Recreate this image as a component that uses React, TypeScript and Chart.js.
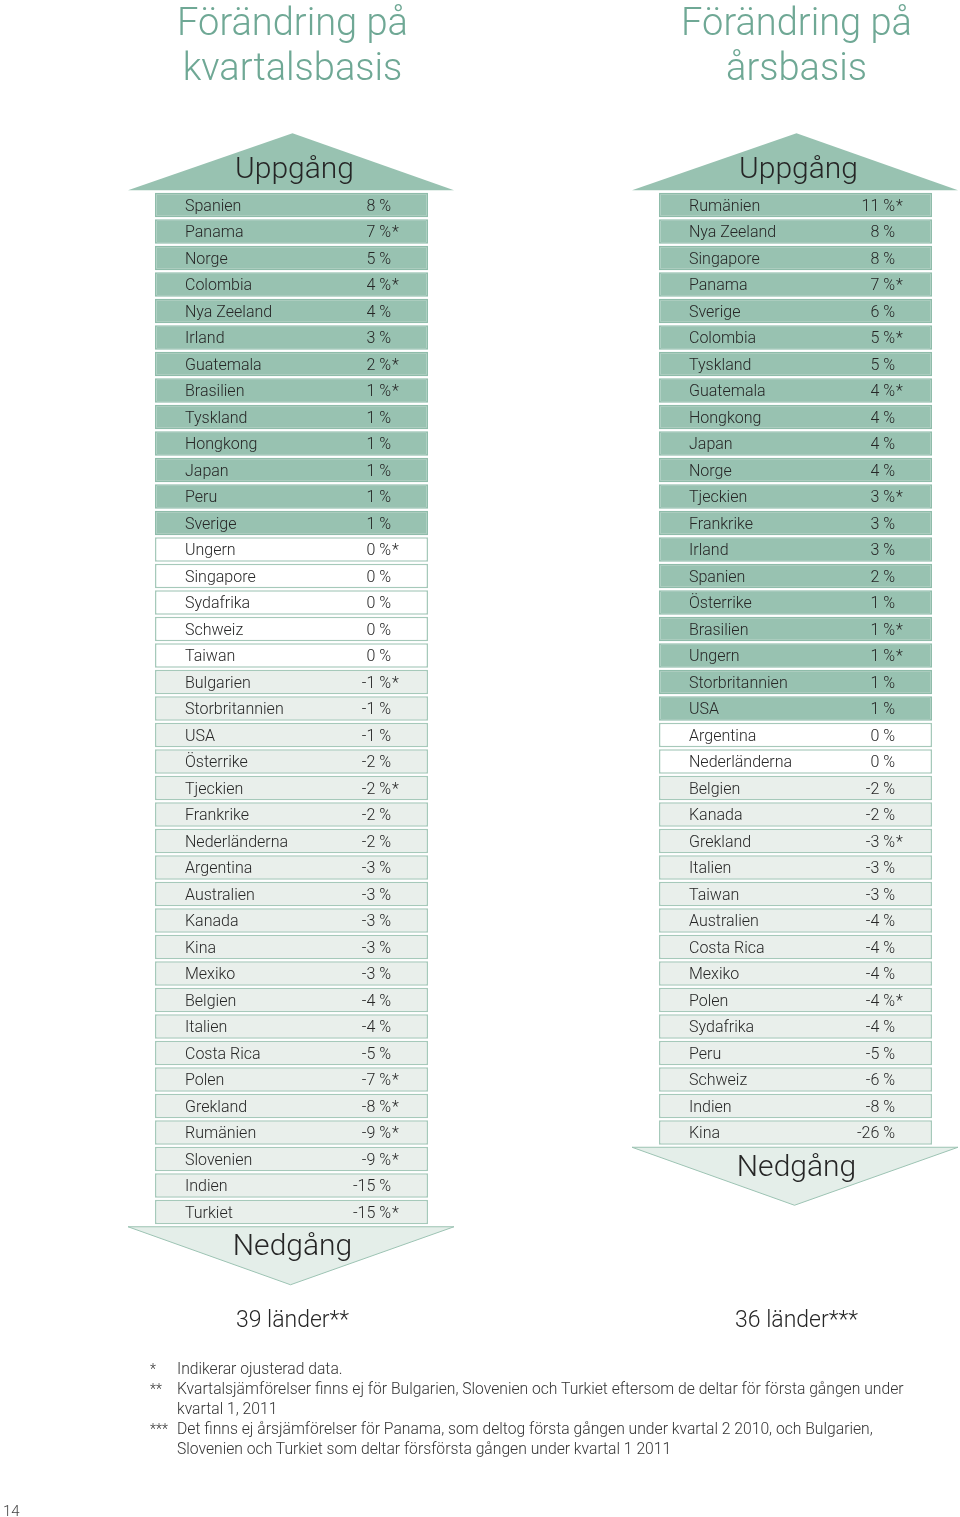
import React, { useEffect, useRef } from "react";
import { Chart, registerables } from "chart.js";
Chart.register(...registerables);

const quarterCountries = ["Spanien","Panama","Norge","Colombia","Nya Zeeland","Irland","Guatemala","Brasilien","Tyskland","Hongkong","Japan","Peru","Sverige","Ungern","Singapore","Sydafrika","Schweiz","Taiwan","Bulgarien","Storbritannien","USA","Österrike","Tjeckien","Frankrike","Nederländerna","Argentina","Australien","Kanada","Kina","Mexiko","Belgien","Italien","Costa Rica","Polen","Grekland","Rumänien","Slovenien","Indien","Turkiet"];
const quarterValues = [8,7,5,4,4,3,2,1,1,1,1,1,1,0,0,0,0,0,-1,-1,-1,-2,-2,-2,-2,-3,-3,-3,-3,-3,-4,-4,-5,-7,-8,-9,-9,-15,-15];
const quarterUnadjusted = ["Panama","Colombia","Guatemala","Brasilien","Ungern","Bulgarien","Tjeckien","Polen","Grekland","Rumänien","Slovenien","Turkiet"];

const annualCountries = ["Rumänien","Nya Zeeland","Singapore","Panama","Sverige","Colombia","Tyskland","Guatemala","Hongkong","Japan","Norge","Tjeckien","Frankrike","Irland","Spanien","Österrike","Brasilien","Ungern","Storbritannien","USA","Argentina","Nederländerna","Belgien","Kanada","Grekland","Italien","Taiwan","Australien","Costa Rica","Mexiko","Polen","Sydafrika","Peru","Schweiz","Indien","Kina"];
const annualValues = [11,8,8,7,6,5,5,4,4,4,4,3,3,3,2,1,1,1,1,1,0,0,-2,-2,-3,-3,-3,-4,-4,-4,-4,-4,-5,-6,-8,-26];
const annualUnadjusted = ["Rumänien","Panama","Colombia","Guatemala","Tjeckien","Brasilien","Ungern","Grekland","Polen"];

const titles = [["Förändring på", "kvartalsbasis"], ["Förändring på", "årsbasis"]];
const countTexts = ["39 länder**", "36 länder***"];
const upLabel = "Uppgång";
const downLabel = "Nedgång";

const footnotes = [
  ["*", ["Indikerar ojusterad data."]],
  ["**", ["Kvartalsjämförelser finns ej för Bulgarien, Slovenien och Turkiet eftersom de deltar för första gången under", "kvartal 1, 2011"]],
  ["***", ["Det finns ej årsjämförelser för Panama, som deltog första gången under kvartal 2 2010, och Bulgarien,", "Slovenien och Turkiet som deltar försförsta gången under kvartal 1 2011"]],
] as [string, string[]][];

const FONT = "Roboto, 'Liberation Sans', sans-serif";
const POS_FILL = "#98c2b1";
const POS_BORDER = "#8fbcaa";
const NEG_FILL = "#e9efeb";
const ZERO_FILL = "#ffffff";
const CELL_BORDER = "#a6c9ba";
const TITLE_COLOR = "#6fa895";
const TEXT_COLOR = "#262626";

function makeChart(canvas: HTMLCanvasElement, countries: string[], values: number[], unadjusted: string[], title: string[], countText: string, pad: { left: number; right: number; top: number; bottom: number }) {
  const decorPlugin = {
    id: "decor",
    beforeDatasetsDraw(chart: any) {
      const ctx = chart.ctx as CanvasRenderingContext2D;
      const a = chart.chartArea;
      const cx = (a.left + a.right) / 2;
      ctx.save();
      ctx.fillStyle = TITLE_COLOR;
      ctx.font = `300 38px ${FONT}`;
      ctx.textAlign = "center";
      ctx.textBaseline = "middle";
      ctx.fillText(title[0], cx + 1, 25);
      ctx.fillText(title[1], cx + 1, 70);
      const baseTop = a.top - 1.5;
      ctx.beginPath();
      ctx.moveTo(a.left - 27, baseTop);
      ctx.lineTo(cx + 1, baseTop - 57);
      ctx.lineTo(a.right + 26, baseTop);
      ctx.closePath();
      ctx.fillStyle = POS_FILL;
      ctx.fill();
      ctx.fillStyle = TEXT_COLOR;
      ctx.font = `300 30px ${FONT}`;
      ctx.fillText(upLabel, cx + 3, baseTop - 20);
      const baseBot = a.bottom + 1.5;
      ctx.beginPath();
      ctx.moveTo(a.left - 27, baseBot);
      ctx.lineTo(cx - 1, baseBot + 58);
      ctx.lineTo(a.right + 26, baseBot);
      ctx.closePath();
      ctx.fillStyle = "#e4eee9";
      ctx.fill();
      ctx.strokeStyle = "#9cc3b3";
      ctx.lineWidth = 1;
      ctx.stroke();
      ctx.fillStyle = TEXT_COLOR;
      ctx.font = `300 30px ${FONT}`;
      ctx.fillText(downLabel, cx + 1, baseBot + 21);
      ctx.font = `300 23px ${FONT}`;
      ctx.fillText(countText, cx + 1, 1321);
      ctx.restore();
    },
    afterDatasetsDraw(chart: any) {
      const ctx = chart.ctx as CanvasRenderingContext2D;
      const a = chart.chartArea;
      const meta = chart.getDatasetMeta(0);
      ctx.save();
      ctx.fillStyle = TEXT_COLOR;
      ctx.font = `300 16px ${FONT}`;
      ctx.textBaseline = "middle";
      countries.forEach((name, i) => {
        const y = meta.data[i].y + 1.5;
        ctx.textAlign = "left";
        ctx.fillText(name, a.left + 30, y);
        ctx.textAlign = "right";
        ctx.fillText(`${values[i]} %`, a.left + 236, y);
        if (unadjusted.includes(name)) {
          ctx.textAlign = "left";
          ctx.fillText("*", a.left + 237, y);
        }
      });
      ctx.restore();
    },
  };

  return new Chart(canvas, {
    type: "bar",
    data: {
      labels: countries,
      datasets: [
        {
          data: countries.map(() => 1),
          backgroundColor: values.map((v) => (v > 0 ? POS_FILL : v < 0 ? NEG_FILL : ZERO_FILL)),
          borderColor: values.map((v) => (v > 0 ? POS_BORDER : CELL_BORDER)),
          borderWidth: 1.5,
          borderSkipped: false,
          barPercentage: 0.92,
          categoryPercentage: 1,
        },
      ],
    },
    options: {
      indexAxis: "y",
      responsive: false,
      animation: false,
      devicePixelRatio: 1,
      layout: { padding: pad },
      plugins: { legend: { display: false }, tooltip: { enabled: false }, title: { display: false } },
      scales: {
        x: { display: false, min: 0, max: 1 },
        y: { display: false },
      },
    },
    plugins: [decorPlugin],
  } as any);
}

export default function App() {
  const leftRef = useRef<HTMLCanvasElement>(null);
  const rightRef = useRef<HTMLCanvasElement>(null);

  useEffect(() => {
    const pitch = 26.5;
    const top = 191.75;
    const left = makeChart(leftRef.current!, quarterCountries, quarterValues, quarterUnadjusted, titles[0], countTexts[0], {
      left: 155, right: 52, top, bottom: 1517 - (top + pitch * quarterCountries.length),
    });
    const right = makeChart(rightRef.current!, annualCountries, annualValues, annualUnadjusted, titles[1], countTexts[1], {
      left: 179, right: 28, top, bottom: 1517 - (top + pitch * annualCountries.length),
    });
    return () => {
      left.destroy();
      right.destroy();
    };
  }, []);

  return (
    <div style={{ position: "absolute", left: 0, top: 0, width: 960, height: 1517, background: "#fff", overflow: "hidden", fontFamily: FONT }}>
      <canvas ref={leftRef} width={480} height={1517} style={{ position: "absolute", left: 0, top: 0, width: 480, height: 1517 }} />
      <canvas ref={rightRef} width={480} height={1517} style={{ position: "absolute", left: 480, top: 0, width: 480, height: 1517 }} />
      <div style={{ position: "absolute", left: 150, top: 1359, width: 800, fontSize: 15.7, lineHeight: "20px", color: "#333", fontWeight: 300 }}>
        {footnotes.map(([mark, lines], i) => (
          <div key={i} style={{ display: "flex" }}>
            <div style={{ width: 27, flex: "none", fontSize: 14 }}>{mark}</div>
            <div>
              {lines.map((l, j) => (
                <div key={j} style={{ whiteSpace: "nowrap" }}>{l}</div>
              ))}
            </div>
          </div>
        ))}
      </div>
      <div style={{ position: "absolute", left: 3, top: 1502, fontSize: 15, color: "#444", fontWeight: 300 }}>14</div>
    </div>
  );
}
